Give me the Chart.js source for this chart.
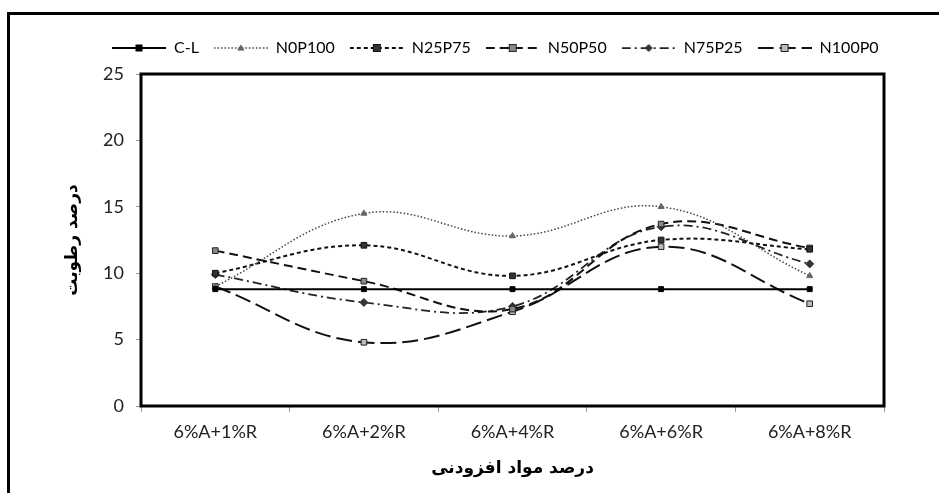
<!DOCTYPE html>
<html>
<head>
<meta charset="utf-8">
<script src="https://cdn.jsdelivr.net/npm/chart.js@4.4.1/dist/chart.umd.min.js"></script>
<style>
  html, body { margin: 0; padding: 0; background: #fff; overflow: hidden; }
  #wrap { position: absolute; left: 0; top: 0; width: 939px; height: 493px; }
  #frame { position: absolute; left: 7px; top: 12px; width: 960px; height: 520px;
           border-left: 3px solid #000; border-top: 3px solid #000; pointer-events: none; }
</style>
</head>
<body>
<div id="wrap"><canvas id="c" width="939" height="493"></canvas></div>
<div id="frame"></div>
<script>
const categories = ['6%A+1%R', '6%A+2%R', '6%A+4%R', '6%A+6%R', '6%A+8%R'];
const seriesNames = ['C-L', 'N0P100', 'N25P75', 'N50P50', 'N75P25', 'N100P0'];
const CL     = [8.8, 8.8, 8.8, 8.8, 8.8];
const N0P100 = [9.0, 14.5, 12.8, 15.0, 9.8];
const N25P75 = [10.0, 12.1, 9.8, 12.5, 11.8];
const N50P50 = [11.7, 9.4, 7.3, 13.7, 11.9];
const N75P25 = [9.9, 7.8, 7.5, 13.5, 10.7];
const N100P0 = [9.0, 4.8, 7.1, 12.0, 7.7];
const yTicks = [0, 5, 10, 15, 20, 25];
const yTitle = 'درصد رطوبت';
const xTitle = 'درصد مواد افزودنی';

const FONT = "Lato, 'DejaVu Sans', sans-serif";
const AFONT = "'DejaVu Sans', sans-serif";

const styles = [
  { color: '#000', width: 2,   dash: [],            marker: 'rect',     r: 3.5, fill: '#000', stroke: '#000' },
  { color: '#444', width: 1.5, dash: [1.5, 2],      marker: 'triangle', r: 3.5, fill: '#666', stroke: '#666' },
  { color: '#111', width: 2,   dash: [4, 3],        marker: 'rect',     r: 4,   fill: '#333', stroke: '#111' },
  { color: '#111', width: 2,   dash: [9, 5],        marker: 'rect',     r: 4,   fill: '#888', stroke: '#222' },
  { color: '#222', width: 1.75,dash: [9, 4, 2, 4],  marker: 'rectRot',  r: 4,   fill: '#333', stroke: '#333' },
  { color: '#111', width: 2,   dash: [16, 6],       marker: 'rect',     r: 4,   fill: '#bbb', stroke: '#222' }
];
const values = [CL, N0P100, N25P75, N50P50, N75P25, N100P0];

function legendSample(s) {
  const cv = document.createElement('canvas');
  cv.width = 54; cv.height = 12;
  const g = cv.getContext('2d');
  g.strokeStyle = s.color; g.lineWidth = s.width; g.setLineDash(s.dash);
  g.beginPath(); g.moveTo(0, 6); g.lineTo(54, 6); g.stroke();
  g.setLineDash([]);
  g.fillStyle = s.fill; g.strokeStyle = s.stroke; g.lineWidth = 1;
  const r = s.r - 0.5, cx = 27;
  if (s.marker === 'triangle') {
    g.beginPath(); g.moveTo(cx, 6 - r); g.lineTo(cx + r, 6 + r * 0.7); g.lineTo(cx - r, 6 + r * 0.7); g.closePath(); g.fill(); g.stroke();
  } else if (s.marker === 'rectRot') {
    g.beginPath(); g.moveTo(cx, 6 - r); g.lineTo(cx + r, 6); g.lineTo(cx, 6 + r); g.lineTo(cx - r, 6); g.closePath(); g.fill(); g.stroke();
  } else {
    g.fillRect(cx - r, 6 - r, 2 * r, 2 * r); g.strokeRect(cx - r, 6 - r, 2 * r, 2 * r);
  }
  return cv;
}
const samples = styles.map(legendSample);

const datasets = seriesNames.map((name, i) => ({
  label: name,
  data: values[i],
  borderColor: styles[i].color,
  borderWidth: styles[i].width,
  borderDash: styles[i].dash,
  pointStyle: styles[i].marker,
  pointRadius: styles[i].r,
  pointBackgroundColor: styles[i].fill,
  pointBorderColor: styles[i].stroke,
  pointBorderWidth: 1,
  tension: i === 0 ? 0 : 0.4,
  fill: false
}));

const framePlugin = {
  id: 'frame',
  afterLayout(chart) {
    const lg = chart.legend;
    if (lg && lg.lineWidths) {
      const pad = lg.options.labels.padding;
      const start = (lg.left + pad + lg.right - lg.lineWidths[0]) / 2;
      const shift = 112 - start;
      lg.left += shift; lg.right += shift;
      lg.top -= 8; lg.bottom -= 8;
    }
  },
  afterDatasetsDraw(chart) {
    const a = chart.chartArea, ctx = chart.ctx;
    ctx.save();
    ctx.strokeStyle = '#000'; ctx.lineWidth = 3;
    ctx.strokeRect(a.left, a.top, a.right - a.left, a.bottom - a.top);
    ctx.restore();
  }
};

new Chart(document.getElementById('c'), {
  type: 'line',
  data: { labels: categories, datasets },
  plugins: [framePlugin],
  options: {
    responsive: false,
    animation: false,
    devicePixelRatio: 1,
    layout: { padding: { left: 45, right: 55, top: 33, bottom: 5 } },
    plugins: {
      tooltip: { enabled: false },
      legend: {
        position: 'top',
        labels: {
          usePointStyle: true,
          pointStyleWidth: 54,
          padding: 15,
          color: '#222',
          font: { family: FONT, size: 16 },
          generateLabels: (chart) => chart.data.datasets.map((d, i) => ({
            text: d.label, pointStyle: samples[i], datasetIndex: i,
            fillStyle: 'transparent', strokeStyle: 'transparent', lineWidth: 0, hidden: false
          }))
        }
      }
    },
    scales: {
      x: {
        offset: true,
        grid: { display: true, drawOnChartArea: false, offset: true, tickLength: 6, color: '#999' },
        border: { display: false },
        ticks: { color: '#222', padding: 9, font: { family: FONT, size: 18 }, maxRotation: 0 },
        title: { display: true, text: xTitle, color: '#000', padding: { top: 0, bottom: 9 },
                 font: { family: AFONT, size: 17, weight: 'bold' } },
        afterFit: (s) => { s.height = 82; }
      },
      y: {
        min: 0, max: 25,
        afterBuildTicks: (s) => { s.ticks = yTicks.map(v => ({ value: v })); },
        grid: { display: true, drawOnChartArea: false, tickLength: 5, color: '#999' },
        border: { display: false },
        ticks: { color: '#222', padding: 12, font: { family: FONT, size: 18 } },
        title: { display: true, text: yTitle, color: '#000', padding: { top: 17, bottom: 0 },
                 font: { family: AFONT, size: 17, weight: 'bold' } },
        afterFit: (s) => { s.width = 96; }
      }
    }
  }
});
</script>
</body>
</html>
